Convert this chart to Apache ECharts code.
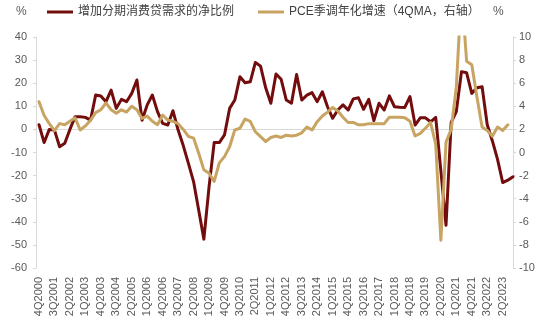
<!DOCTYPE html>
<html>
<head>
<meta charset="utf-8">
<script src="https://cdn.jsdelivr.net/npm/echarts@6/dist/echarts.min.js"></script>
<style>
  html, body { margin: 0; padding: 0; background: #ffffff; }
  #chart { width: 550px; height: 330px; }
</style>
</head>
<body>
<div id="chart"></div>
<script>
// Quarterly axis, 4Q2000 – 4Q2023
const quarters = [
  '4Q2000',
  '1Q2001','2Q2001','3Q2001','4Q2001','1Q2002','2Q2002','3Q2002','4Q2002',
  '1Q2003','2Q2003','3Q2003','4Q2003','1Q2004','2Q2004','3Q2004','4Q2004',
  '1Q2005','2Q2005','3Q2005','4Q2005','1Q2006','2Q2006','3Q2006','4Q2006',
  '1Q2007','2Q2007','3Q2007','4Q2007','1Q2008','2Q2008','3Q2008','4Q2008',
  '1Q2009','2Q2009','3Q2009','4Q2009','1Q2010','2Q2010','3Q2010','4Q2010',
  '1Q2011','2Q2011','3Q2011','4Q2011','1Q2012','2Q2012','3Q2012','4Q2012',
  '1Q2013','2Q2013','3Q2013','4Q2013','1Q2014','2Q2014','3Q2014','4Q2014',
  '1Q2015','2Q2015','3Q2015','4Q2015','1Q2016','2Q2016','3Q2016','4Q2016',
  '1Q2017','2Q2017','3Q2017','4Q2017','1Q2018','2Q2018','3Q2018','4Q2018',
  '1Q2019','2Q2019','3Q2019','4Q2019','1Q2020','2Q2020','3Q2020','4Q2020',
  '1Q2021','2Q2021','3Q2021','4Q2021','1Q2022','2Q2022','3Q2022','4Q2022',
  '1Q2023','2Q2023','3Q2023','4Q2023'
];

// Net share of banks reporting stronger demand for instalment consumer loans (%, left axis)
const loanDemand = [
  2, -5.7, 0, -0.3, -7.5, -6, 0, 5.5, 5.5, 5.2, 4,
  14.9, 14.5, 12, 17, 9.1, 13, 12, 15.6, 21.4, 4,
  10.6, 14.9, 7.7, 2.6, 1.9, 8.1, -0.3, -7, -14.7, -22.6,
  -35, -47.5, -25, -5.7, -5.7, -2.4, 9.1, 12.7, 22.8, 20.2,
  20.6, 29, 27.4, 18, 11.3, 24, 21.7, 12.7, 11.3, 23.8,
  12.7, 14.8, 15.9, 12, 16.3, 9.8, 4.8, 8.4, 10.6, 8.4,
  13.2, 13.7, 8.7, 13, 3.8, 11.3, 8.4, 14.5, 9.8, 9.6,
  9.5, 14.2, 1.9, 5, 5, 3.3, 5.2, -18, -41.5, 3,
  7.7, 25, 24.5, 15.6, 18, 18.5, 2, -5, -13, -23,
  -22, -20.5
];

// Real PCE growth, seasonally adjusted annualised, 4-quarter moving average (%, right axis)
const pceGrowth = [
  4.4, 3.2, 2.5, 1.9, 2.5, 2.4, 2.7, 3.0, 1.95, 2.3, 2.8,
  3.45, 3.7, 4.3, 3.7, 3.4, 3.7, 3.5, 4.0, 3.7, 2.95,
  3.15, 2.7, 2.4, 3.25, 2.8, 2.7, 2.5, 2.0, 1.4, 1.25,
  -0.07, -1.5, -1.8, -2.5, -0.9, -0.36, 0.5, 1.95, 2.1, 2.9,
  2.7, 1.8, 1.37, 0.94, 1.3, 1.43, 1.3, 1.5, 1.43, 1.5,
  1.7, 2.2, 1.95, 2.67, 3.16, 3.5, 3.9, 3.6, 3.05, 2.6,
  2.6, 2.4, 2.4, 2.5, 2.5, 2.5, 2.5, 3.05, 3.05, 3.05,
  3.0, 2.7, 1.43, 1.66, 2.1, 2.6, 0.7, -7.6, 0.9, 2.0,
  5.7, 14, 7.9, 7.6, 4.8, 2.2, 1.9, 1.4, 2.2, 1.9,
  2.4
];

const seriesNames = ['增加分期消费贷需求的净比例', 'PCE季调年化增速（4QMA，右轴）'];
const unitLabel = '%';

const FONT = "'Liberation Sans', Arial, 'Noto Sans CJK SC', sans-serif";
const RED = '#730c0c';
const GOLD = '#c8a462';
const AXIS_GREY = '#d9d9d9';
const LABEL_GREY = '#595959';

const chart = echarts.init(document.getElementById('chart'), null, { renderer: 'canvas' });

chart.setOption({
  animation: false,
  backgroundColor: '#ffffff',
  textStyle: { fontFamily: FONT },
  grid: { left: 39, right: 37, top: 37, bottom: 62, containLabel: false, outerBoundsMode: 'none' },
  legend: {
    data: seriesNames,
    left: 47,
    top: 6,
    padding: 0,
    icon: 'rect',
    itemWidth: 26,
    itemHeight: 3,
    itemGap: 24,
    textStyle: { fontSize: 12, color: '#404040', fontFamily: FONT }
  },
  graphic: [
    { type: 'text', left: 16, top: 6, style: { text: unitLabel, fontSize: 12, fill: LABEL_GREY, font: '12px ' + FONT } },
    { type: 'text', left: 493, top: 6, style: { text: unitLabel, fontSize: 12, fill: LABEL_GREY, font: '12px ' + FONT } }
  ],
  xAxis: [
    {
      type: 'category',
      data: quarters,
      boundaryGap: false,
      position: 'bottom',
      axisLine: { show: false, onZero: false },
      axisTick: { show: false },
      splitLine: { show: false },
      axisLabel: {
        interval: 2,
        rotate: 90,
        margin: 9,
        fontSize: 11,
        color: LABEL_GREY,
        fontFamily: FONT,
        hideOverlap: false
      }
    },
    {
      // zero reference line of the left axis
      type: 'category',
      data: quarters,
      boundaryGap: false,
      position: 'bottom',
      axisLine: { show: true, onZero: true, onZeroAxisIndex: 0, lineStyle: { color: AXIS_GREY, width: 1 } },
      axisTick: { show: false },
      axisLabel: { show: false },
      splitLine: { show: false }
    }
  ],
  yAxis: [
    {
      type: 'value',
      position: 'left',
      min: -60,
      max: 40,
      interval: 10,
      offset: 3,
      axisLine: { show: true, lineStyle: { color: AXIS_GREY, width: 1 } },
      axisTick: { show: true, inside: false, length: 3, lineStyle: { color: AXIS_GREY } },
      splitLine: { show: false },
      axisLabel: { margin: 9, fontSize: 11, color: LABEL_GREY, fontFamily: FONT }
    },
    {
      type: 'value',
      position: 'right',
      min: -10,
      max: 10,
      interval: 2,
      axisLine: { show: true, lineStyle: { color: AXIS_GREY, width: 1 } },
      axisTick: { show: true, inside: false, length: 3, lineStyle: { color: AXIS_GREY } },
      splitLine: { show: false },
      axisLabel: { margin: 6, fontSize: 11, color: LABEL_GREY, fontFamily: FONT }
    }
  ],
  series: [
    {
      name: seriesNames[0],
      type: 'line',
      xAxisIndex: 0,
      yAxisIndex: 0,
      data: loanDemand,
      symbol: 'none',
      smooth: false,
      clip: true,
      color: RED,
      lineStyle: { color: RED, width: 3, cap: 'round', join: 'round' }
    },
    {
      name: seriesNames[1],
      type: 'line',
      xAxisIndex: 0,
      yAxisIndex: 1,
      data: pceGrowth,
      symbol: 'none',
      smooth: false,
      clip: true,
      color: GOLD,
      lineStyle: { color: GOLD, width: 3, cap: 'round', join: 'round' }
    }
  ]
});
</script>
</body>
</html>
